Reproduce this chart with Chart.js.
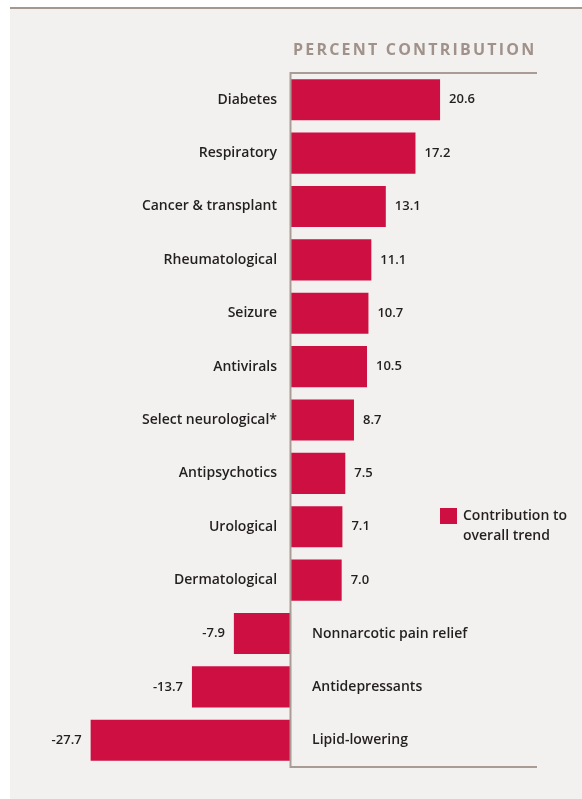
<!DOCTYPE html>
<html>
<head>
<meta charset="utf-8">
<script src="https://cdn.jsdelivr.net/npm/chart.js@4.4.0/dist/chart.umd.min.js"></script>
<style>
  html, body { margin: 0; padding: 0; background: #ffffff; }
  canvas { display: block; }
</style>
</head>
<body>
<canvas id="chart" width="582" height="799"></canvas>
<script>
// ============================================================================
// PERCENT CONTRIBUTION - horizontal bars
// ============================================================================

const categorias = [
    "Diabetes", "Respiratory", "Cancer & transplant", "Rheumatological",
    "Seizure", "Antivirals", "Select neurological*", "Antipsychotics",
    "Urological", "Dermatological", "Nonnarcotic pain relief",
    "Antidepressants", "Lipid-lowering"
];
const contribuicao = [20.6, 17.2, 13.1, 11.1, 10.7, 10.5, 8.7, 7.5, 7.1, 7.0, -7.9, -13.7, -27.7];
const rotulosValor = ["20.6", "17.2", "13.1", "11.1", "10.7", "10.5", "8.7", "7.5", "7.1", "7.0", "-7.9", "-13.7", "-27.7"];
const tituloEixo = "PERCENT CONTRIBUTION";
const legendaLinhas = ["Contribution to", "overall trend"];

const corBarra = "#cd0f41";
const corLinha = "#a89c94";
const corTexto = "#231f20";
const fonte = "'Open Sans', sans-serif";

// Fundo do painel + moldura do eixo
const painelPlugin = {
    id: "painel",
    beforeDraw(chart) {
        const ctx = chart.ctx;
        ctx.save();
        ctx.fillStyle = "#f3f1ef";
        ctx.fillRect(10, 7, chart.width - 10, chart.height - 7);
        ctx.strokeStyle = "#a39890";
        ctx.lineWidth = 2;
        ctx.beginPath();
        ctx.moveTo(10, 8);
        ctx.lineTo(chart.width, 8);
        ctx.stroke();
        ctx.restore();
    },
    afterDatasetsDraw(chart) {
        const ctx = chart.ctx;
        const area = chart.chartArea;
        const x0 = Math.round(chart.scales.x.getPixelForValue(0)) - 0.5;
        ctx.save();
        ctx.strokeStyle = corLinha;
        ctx.lineWidth = 2;
        ctx.beginPath();
        ctx.moveTo(area.right, area.top);
        ctx.lineTo(x0, area.top);
        ctx.lineTo(x0, area.bottom);
        ctx.lineTo(area.right, area.bottom);
        ctx.stroke();
        ctx.restore();
    }
};

// Rótulos de categoria, valores, título e legenda
const rotulosPlugin = {
    id: "rotulos",
    afterDraw(chart) {
        const ctx = chart.ctx;
        const xs = chart.scales.x;
        const ys = chart.scales.y;
        const x0 = xs.getPixelForValue(0);
        const meta = chart.getDatasetMeta(0);
        ctx.save();
        ctx.textBaseline = "middle";
        ctx.fillStyle = corTexto;
        categorias.forEach((cat, i) => {
            const y = ys.getPixelForValue(i);
            const v = contribuicao[i];
            const bar = meta.data[i];
            ctx.font = "600 14px " + fonte;
            if (v >= 0) {
                ctx.textAlign = "right";
                ctx.fillText(cat, x0 - 14, y);
                ctx.textAlign = "left";
                ctx.font = "600 13px " + fonte;
                ctx.fillText(rotulosValor[i], bar.x + 9, y);
            } else {
                ctx.textAlign = "left";
                ctx.fillText(cat, x0 + 21, y);
                ctx.textAlign = "right";
                ctx.font = "600 13px " + fonte;
                ctx.fillText(rotulosValor[i], bar.x - 9, y);
            }
        });

        // título
        ctx.font = "bold 16px " + fonte;
        ctx.fillStyle = "#a0928a";
        ctx.letterSpacing = "2.2px";
        ctx.textAlign = "left";
        ctx.fillText(tituloEixo, x0 + 2, 50);
        ctx.letterSpacing = "0px";

        // legenda
        ctx.fillStyle = corBarra;
        ctx.fillRect(440, 508, 17, 16);
        ctx.fillStyle = corTexto;
        ctx.font = "600 14px " + fonte;
        ctx.fillText(legendaLinhas[0], 463, 516);
        ctx.fillText(legendaLinhas[1], 463, 536);
        ctx.restore();
    }
};

new Chart(document.getElementById("chart"), {
    type: "bar",
    data: {
        labels: categorias,
        datasets: [{
            label: legendaLinhas.join(" "),
            data: contribuicao,
            backgroundColor: corBarra,
            borderWidth: 0,
            barPercentage: 0.77,
            categoryPercentage: 1
        }]
    },
    options: {
        indexAxis: "y",
        responsive: false,
        animation: false,
        layout: { padding: { left: 74, right: 45, top: 73, bottom: 32 } },
        scales: {
            x: { display: false, min: -30, max: 34 },
            y: { display: false }
        },
        plugins: {
            legend: { display: false },
            tooltip: { enabled: false }
        }
    },
    plugins: [painelPlugin, rotulosPlugin]
});
</script>
</body>
</html>
